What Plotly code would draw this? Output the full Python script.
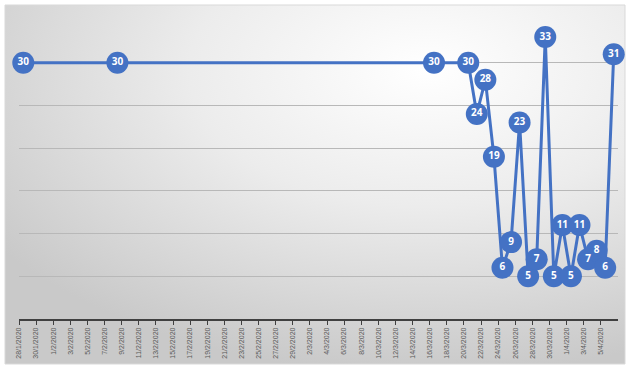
import base64
import pandas as pd
import plotly.graph_objects as go

# ---- data ----
dates = ["28/1/2020", "8/2/2020", "16/3/2020", "20/3/2020", "21/3/2020", "22/3/2020",
         "23/3/2020", "24/3/2020", "25/3/2020", "26/3/2020", "27/3/2020", "28/3/2020",
         "29/3/2020", "30/3/2020", "31/3/2020", "1/4/2020", "2/4/2020", "3/4/2020",
         "4/4/2020", "5/4/2020", "6/4/2020"]
values = [30, 30, 30, 30, 24, 28, 19, 6, 9, 23, 5, 7, 33, 5, 11, 5, 11, 7, 8, 6, 31]
tick_dates = pd.date_range("2020-01-28", "2020-04-05", freq="2D")
tick_text = [f"{d.day}/{d.month}/{d.year}" for d in tick_dates]

# points sit in the middle of each day slot (Excel "between tick marks")
x = pd.to_datetime(dates, format="%d/%m/%Y") + pd.Timedelta(hours=12)

BLUE = "#4472C4"

fig = go.Figure()
fig.add_trace(go.Scatter(
    x=x, y=values, mode="lines+markers+text",
    line=dict(color=BLUE, width=3),
    marker=dict(size=22, color=BLUE, line=dict(width=0)),
    text=[str(v) for v in values], textposition="middle center",
    textfont=dict(color="white", size=10, family="Open Sans", weight="bold"),
    hoverinfo="skip", showlegend=False, cliponaxis=False,
))

W, H = 628, 369
ml, mr, mt, mb = 19, 10, 20, 50

svg = (
    '<svg xmlns="http://www.w3.org/2000/svg" width="620" height="360" preserveAspectRatio="none">'
    '<defs><radialGradient id="g" cx="0.68" cy="0.18" r="0.85" gradientUnits="objectBoundingBox">'
    '<stop offset="0" stop-color="#ffffff"/><stop offset="0.45" stop-color="#ececec"/>'
    '<stop offset="1" stop-color="#c9c9c9"/></radialGradient></defs>'
    '<rect width="620" height="360" fill="url(#g)"/></svg>'
)
src = "data:image/svg+xml;base64," + base64.b64encode(svg.encode()).decode()

pw, ph = W - ml - mr, H - mt - mb
x0, x1 = 5, 625
y0, y1 = 5, 364
fig.add_layout_image(dict(
    source=src, xref="paper", yref="paper",
    x=(x0 - ml) / pw, y=(H - mb - y0) / ph,
    sizex=(x1 - x0) / pw, sizey=(y1 - y0) / ph,
    xanchor="left", yanchor="top", sizing="stretch", layer="below",
))
fig.add_shape(type="rect", xref="paper", yref="paper",
              x0=(x0 - ml) / pw, x1=(x1 - ml) / pw,
              y0=(H - mb - y1) / ph, y1=(H - mb - y0) / ph,
              line=dict(color="#d9d9d9", width=1), layer="below")

fig.update_layout(
    width=W, height=H,
    margin=dict(l=ml, r=mr, t=mt, b=mb),
    paper_bgcolor="white", plot_bgcolor="rgba(0,0,0,0)",
    xaxis=dict(
        type="date", range=["2020-01-28", "2020-04-07"],
        tickvals=tick_dates, ticktext=tick_text, tickangle=-90,
        tickfont=dict(size=7, color="#595959", family="Liberation Sans"),
        ticks="outside", ticklen=4, tickcolor="#404040", tickwidth=1,
        showline=True, linecolor="#404040", linewidth=1.5,
        showgrid=False, zeroline=False,
    ),
    yaxis=dict(
        range=[0, 35], dtick=5, showticklabels=False,
        showgrid=True, gridcolor="#b8b8b8", gridwidth=1,
        zeroline=False, showline=False, ticks="",
    ),
)

fig.write_html("out.html")
